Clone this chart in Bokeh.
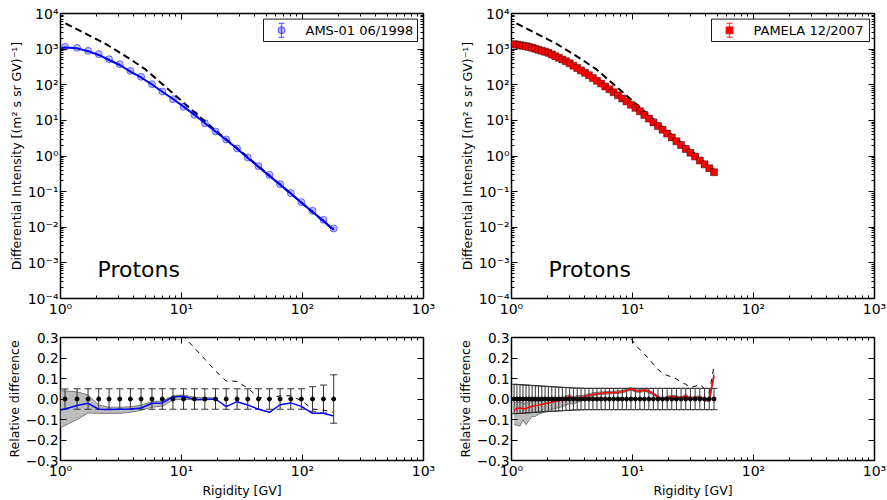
from bokeh.plotting import figure
from bokeh.models import (ColumnDataSource, Label, FixedTicker, BoxAnnotation,
                          CustomJSTickFormatter, LogAxis, LinearAxis, Range1d)
from bokeh.layouts import column, row
from bokeh.embed import file_html
from bokeh.resources import INLINE

FONT = "DejaVu Sans"
TICK_FS = "14px"
REL_TICK_FS = "13.5px"
LAB_FS = "12.5px"

# ---------------- data ----------------
# AMS-01 06/1998
ams_R = [1.09, 1.37, 1.69, 2.07, 2.52, 3.09, 3.78, 4.63, 5.70, 6.94, 8.50, 10.4, 12.8,
         15.6, 19.1, 23.4, 28.8, 35.3, 43.3, 53.3, 65.3, 80.0, 97.9, 121.0, 149.0, 181.0]
ams_flux = [1161, 1086, 895, 723, 522, 378, 246, 167, 104, 64.7, 39.4, 24.0, 14.3,
            8.36, 4.88, 2.91, 1.63, 0.910, 0.520, 0.296, 0.162, 0.0908, 0.0507, 0.0290,
            0.0162, 0.00925]
ams_err = [0.049, 0.050, 0.050, 0.050, 0.050, 0.050, 0.050, 0.050, 0.050, 0.050, 0.050,
           0.050, 0.050, 0.050, 0.050, 0.050, 0.050, 0.050, 0.050, 0.050, 0.050, 0.050,
           0.050, 0.060, 0.068, 0.118]
ams_zero = [0.0] * 26

# model for AMS-01
ams_model_R = [1.00, 1.09, 1.37, 1.69, 2.07, 2.52, 3.09, 3.78, 4.63, 5.70, 6.94, 8.50, 10.4,
               12.8, 15.6, 19.1, 23.4, 28.8, 35.3, 43.3, 53.3, 65.3, 80.0, 97.9, 121.0,
               149.0, 181.0]
ams_model_flux = [1060, 1104, 1051, 876, 687, 495, 359, 234, 160, 102, 63.5, 39.8, 24.3,
                  14.3, 8.34, 4.88, 2.80, 1.61, 0.884, 0.494, 0.277, 0.157, 0.0891, 0.0489,
                  0.0270, 0.0151, 0.00848]
ams_model_rel = [-0.054, -0.049, -0.032, -0.021, -0.050, -0.051, -0.050, -0.049, -0.044,
                 -0.021, -0.019, 0.010, 0.013, -0.002, -0.002, 0.000, -0.037, -0.013, -0.029,
                 -0.050, -0.065, -0.028, -0.019, -0.036, -0.070, -0.070, -0.083]
ams_band_R = [1.00, 1.37, 1.69, 2.07, 2.52, 3.09, 3.78, 4.63, 5.70, 6.94, 8.50, 10.4, 12.8,
              15.6, 19.1]
ams_band_hi = [0.041, 0.035, 0.020, -0.030, -0.040, -0.040, -0.038, -0.030, -0.012, -0.010,
               0.016, 0.020, 0.008, 0.008, 0.004]
ams_band_lo = [-0.140, -0.100, -0.068, -0.070, -0.070, -0.070, -0.065, -0.055, -0.040,
               -0.035, -0.005, 0.000, -0.005, -0.004, -0.002]
ams_lis_rel_R = [8.50, 10.4, 12.8, 15.6, 19.1, 23.4, 28.8, 35.3, 43.3, 53.3, 65.3, 80.0,
                 97.9, 121.0, 149.0, 181.0]
ams_lis_rel = [0.40, 0.305, 0.249, 0.194, 0.137, 0.088, 0.086, 0.053, 0.008, 0.000, 0.016,
               0.016, -0.008, -0.049, -0.054, -0.065]

# local interstellar spectrum (dashed)
lis_R = [1.1, 1.4, 1.8, 2.3, 3.0, 4.0, 5.0, 7.0, 10.0, 14.0, 20.0, 28.0, 40.0, 48.0, 60.0,
         90.0, 130.0, 180.0]
lis_flux = [5250, 3470, 2240, 1480, 851, 457, 275, 102, 35.5, 12.9, 4.57, 1.78, 0.646, 0.38,
            0.20, 0.063, 0.0219, 0.0085]

# PAMELA 12/2007
pam_R = [1.05, 1.11, 1.175, 1.244, 1.317, 1.396, 1.481, 1.573, 1.671, 1.779, 1.894, 2.018,
         2.153, 2.300, 2.459, 2.632, 2.820, 3.025, 3.248, 3.492, 3.756, 4.047, 4.362, 4.708,
         5.086, 5.499, 5.951, 6.446, 6.986, 7.580, 8.229, 8.939, 9.719, 10.57, 11.51, 12.53,
         13.65, 14.88, 16.23, 17.71, 19.33, 21.11, 23.06, 25.19, 27.53, 30.10, 32.92, 36.01,
         39.39, 43.10, 47.16]
pam_flux = [1380, 1337, 1288, 1247, 1205, 1156, 1086, 1021, 959, 902, 845, 789, 710, 635,
            570, 512, 457, 400, 344, 296, 253, 216, 184, 154, 129, 108, 89.7, 74.6, 61.5,
            50.4, 41.4, 33.9, 27.5, 22.5, 18.0, 14.2, 11.2, 8.77, 6.92, 5.42, 4.25, 3.33,
            2.59, 2.03, 1.58, 1.23, 0.962, 0.748, 0.582, 0.454, 0.351]
pam_err = [0.072, 0.071, 0.070, 0.069, 0.068, 0.067, 0.066, 0.065, 0.064, 0.063, 0.062,
           0.061, 0.060, 0.059, 0.058, 0.057, 0.056, 0.055, 0.054, 0.053, 0.053, 0.052,
           0.052, 0.052, 0.052, 0.052, 0.052, 0.052, 0.052, 0.052, 0.052, 0.052, 0.052,
           0.052, 0.052, 0.052, 0.052, 0.052, 0.052, 0.052, 0.052, 0.052, 0.052, 0.052,
           0.052, 0.052, 0.052, 0.052, 0.052, 0.052, 0.052]
pam_zero = [0.0] * 51
pam_model_rel = [-0.055, -0.046, -0.044, -0.048, -0.047, -0.040, -0.036, -0.032, -0.030,
                 -0.027, -0.022, -0.020, -0.015, -0.012, -0.008, -0.006, 0.004, 0.014,
                 -0.004, 0.008, 0.006, 0.012, 0.018, 0.022, 0.026, 0.028, 0.030, 0.031,
                 0.032, 0.033, 0.036, 0.042, 0.050, 0.040, 0.038, 0.044, 0.037, 0.026,
                 0.010, -0.002, 0.008, 0.012, 0.010, 0.004, 0.016, 0.002, 0.006, 0.010,
                 -0.004, -0.006, 0.115]
pam_band_lo = [-0.125, -0.128, -0.132, -0.100, -0.125, -0.105, -0.085, -0.085, -0.075,
               -0.068, -0.062, -0.056, -0.050, -0.046, -0.042, -0.037, -0.030, -0.022,
               -0.025, -0.016, -0.010, -0.004, 0.008, 0.014, 0.019, 0.022, 0.024, 0.025,
               0.026, 0.027, 0.030, 0.036, 0.044, 0.034, 0.032, 0.038, 0.031, 0.020, 0.004,
               -0.008, 0.002, 0.006, 0.004, -0.002, 0.010, -0.004, 0.000, 0.004, -0.010,
               -0.012, 0.105]
pam_band_hi = [-0.020, -0.015, -0.015, -0.020, -0.020, -0.015, -0.012, -0.010, -0.010,
               -0.008, -0.005, -0.004, 0.000, 0.002, 0.005, 0.006, 0.014, 0.022, 0.008,
               0.018, 0.016, 0.020, 0.026, 0.030, 0.033, 0.034, 0.036, 0.037, 0.038, 0.039,
               0.042, 0.048, 0.056, 0.046, 0.044, 0.050, 0.043, 0.032, 0.016, 0.004, 0.014,
               0.018, 0.016, 0.010, 0.022, 0.008, 0.012, 0.016, 0.002, 0.000, 0.125]
pam_lis_rel_R = [8.229, 8.939, 9.719, 10.57, 11.51, 12.53, 13.65, 14.88, 16.23, 17.71,
                 19.33, 21.11, 23.06, 25.19, 27.53, 30.10, 32.92, 36.01, 39.39, 43.10, 47.16]
pam_lis_rel = [0.38, 0.33, 0.295, 0.265, 0.24, 0.22, 0.195, 0.17, 0.145, 0.125, 0.115,
               0.108, 0.098, 0.082, 0.072, 0.057, 0.062, 0.072, 0.050, 0.030, 0.160]

# axis ticks
X_MAJOR = [1, 10, 100, 1000]
X_MINOR = [m * 10.0 ** d for d in range(0, 3) for m in range(2, 10)]
Y_MAJOR = [10.0 ** k for k in range(-4, 5)]
Y_MINOR = [m * 10.0 ** d for d in range(-4, 4) for m in range(2, 10)]
REL_TICKS = [-0.3, -0.2, -0.1, 0.0, 0.1, 0.2, 0.3]

# ---------------- styling helpers ----------------
LOG_CODE = r"""
const e = Math.round(Math.log10(tick));
const sup = {"0":"\u2070","1":"\u00b9","2":"\u00b2","3":"\u00b3","4":"\u2074","5":"\u2075",
             "6":"\u2076","7":"\u2077","8":"\u2078","9":"\u2079","-":"\u207b"};
let s = "";
for (const c of String(e)) { s += sup[c]; }
return "10" + s;
"""
LIN_CODE = r"""return (tick < -1e-9 ? "\u2212" : "") + Math.abs(tick).toFixed(1);"""
BLANK_CODE = 'return "";'

FW = 363          # frame width
FH_TOP = 285      # frame height, spectra
FH_BOT = 123      # frame height, relative differences
LB = 60
MID = 28
RB = 12


def style_axis(ax, show, fs=TICK_FS):
    ax.major_tick_in = 6
    ax.major_tick_out = 0
    ax.minor_tick_in = 3
    ax.minor_tick_out = 0
    ax.major_tick_line_color = "black"
    ax.minor_tick_line_color = "black"
    ax.axis_line_color = None
    ax.major_label_text_font = FONT
    ax.major_label_text_font_size = fs if show else "0px"
    ax.major_label_text_color = "black"
    ax.major_label_standoff = 2 if show else 0
    ax.axis_label_text_font = FONT
    ax.axis_label_text_font_size = LAB_FS
    ax.axis_label_text_font_style = "normal"
    ax.axis_label_text_color = "black"
    ax.axis_label_standoff = 1


def make_panel(kind, rb, ylabel, xlabel=None):
    xt = FixedTicker(ticks=X_MAJOR, minor_ticks=X_MINOR)
    common = dict(x_axis_type="log", x_range=Range1d(1, 1000), frame_width=FW,
                  min_border_left=LB, min_border_right=rb,
                  output_backend="svg", toolbar_location=None)
    if kind == "top":
        p = figure(y_axis_type="log", y_range=Range1d(1e-4, 1e4), frame_height=FH_TOP,
                   min_border_top=13, min_border_bottom=29, **common)
        yt = FixedTicker(ticks=Y_MAJOR, minor_ticks=Y_MINOR)
        yfmt = CustomJSTickFormatter(code=LOG_CODE)
        YAx = LogAxis
        yfs = TICK_FS
    else:
        p = figure(y_range=Range1d(-0.3, 0.3), frame_height=FH_BOT,
                   min_border_top=10, min_border_bottom=36, **common)
        yt = FixedTicker(ticks=REL_TICKS, minor_ticks=[])
        yfmt = CustomJSTickFormatter(code=LIN_CODE)
        YAx = LinearAxis
        yfs = REL_TICK_FS
    p.xaxis.ticker = xt
    p.xaxis.formatter = CustomJSTickFormatter(code=LOG_CODE)
    p.yaxis.ticker = yt
    p.yaxis.formatter = yfmt
    for ax in p.xaxis:
        style_axis(ax, True)
    for ax in p.yaxis:
        style_axis(ax, True, yfs)
    p.yaxis.axis_label = ylabel
    if xlabel:
        p.xaxis.axis_label = xlabel
    top = LogAxis(ticker=xt, formatter=CustomJSTickFormatter(code=BLANK_CODE))
    style_axis(top, False)
    p.add_layout(top, "above")
    right = YAx(ticker=yt, formatter=CustomJSTickFormatter(code=BLANK_CODE))
    style_axis(right, False)
    p.add_layout(right, "right")
    p.grid.visible = False
    p.outline_line_color = "black"
    p.outline_line_width = 1.5
    p.background_fill_color = "white"
    p.border_fill_color = "white"
    return p


YLAB_TOP = "Differential Intensity [(m\u00b2 s sr GV)\u207b\u00b9]"
YLAB_BOT = "Relative difference"
XLAB = "Rigidity [GV]"


# frame pixel offsets -> axis values (for placing the legend box inside the frame)
def fx(px):
    return 10 ** (3.0 * px / FW)


def fy(py):
    return 10 ** (4.0 - 8.0 * py / FH_TOP)


def add_legend(p, label, box_l, box_r, glyph_x, text_x, color, marker, fill, line,
               fill_alpha, line_alpha):
    top_px, bot_px, mid_px = 5.6, 28.0, 16.8
    p.add_layout(BoxAnnotation(left=fx(box_l), right=fx(box_r), top=fy(top_px),
                               bottom=fy(bot_px), fill_color="white", fill_alpha=1.0,
                               line_color="black", line_width=1, line_alpha=0.9))
    gx = fx(glyph_x)
    p.segment(x0=[gx], y0=[fy(mid_px - 7)], x1=[gx], y1=[fy(mid_px + 7)],
              line_color=color, line_alpha=line_alpha, line_width=1.2, level="overlay")
    p.scatter(x=[gx, gx], y=[fy(mid_px - 7), fy(mid_px + 7)], marker="dash", size=6,
              line_color=color, line_alpha=line_alpha, line_width=1.2, level="overlay")
    p.scatter(x=[gx], y=[fy(mid_px)], marker=marker, size=7, fill_color=fill,
              fill_alpha=fill_alpha, line_color=line, line_alpha=line_alpha, level="overlay")
    p.add_layout(Label(x=fx(text_x), y=fy(mid_px), text=label, text_font=FONT,
                       text_font_size="13px", text_color="black", text_baseline="middle",
                       text_align="left", level="overlay"))


def add_protons(p):
    p.add_layout(Label(x=37, y=29, x_units="screen", y_units="screen", text="Protons",
                       text_font=FONT, text_font_size="22px", text_color="black",
                       text_baseline="alphabetic"))


# ---------------- top left: AMS-01 ----------------
tl = make_panel("top", MID, YLAB_TOP)
tl.line(lis_R, lis_flux, line_color="black", line_width=2, line_dash="7 4")
tl.line(ams_model_R, ams_model_flux, line_color="#0000ff", line_width=2)
ams_src = ColumnDataSource(dict(
    x=ams_R, y=ams_flux,
    lo=[f * (1 - e) for f, e in zip(ams_flux, ams_err)],
    hi=[f * (1 + e) for f, e in zip(ams_flux, ams_err)]))
tl.segment(x0="x", y0="lo", x1="x", y1="hi", source=ams_src, line_color="blue", line_alpha=0.5)
tl.scatter("x", "y", source=ams_src, marker="circle", size=7, fill_color="blue",
           fill_alpha=0.25, line_color="blue", line_alpha=0.5)
add_legend(tl, "AMS-01 06/1998", 203, 357, 221, 245, "blue", "circle", "blue", "blue",
           0.3, 0.6)
add_protons(tl)

# ---------------- top right: PAMELA ----------------
tr = make_panel("top", RB, YLAB_TOP)
lis_R_r = [r for r in lis_R if r <= 48.0]
lis_flux_r = [f for r, f in zip(lis_R, lis_flux) if r <= 48.0]
tr.line(lis_R_r, lis_flux_r, line_color="black", line_width=2, line_dash="7 4")
pam_src = ColumnDataSource(dict(
    x=pam_R, y=pam_flux,
    lo=[f * (1 - e) for f, e in zip(pam_flux, pam_err)],
    hi=[f * (1 + e) for f, e in zip(pam_flux, pam_err)]))
tr.segment(x0="x", y0="lo", x1="x", y1="hi", source=pam_src, line_color="red", line_alpha=0.6)
tr.scatter("x", "y", source=pam_src, marker="square", size=7, fill_color="red",
           line_color="black", line_alpha=0.6, line_width=0.7)
add_legend(tr, "PAMELA 12/2007", 200, 358, 218, 242, "red", "square", "red", "red",
           1.0, 0.7)
add_protons(tr)

# ---------------- bottom left ----------------
bl = make_panel("bot", MID, YLAB_BOT, XLAB)
bl.varea(x=ams_band_R, y1=ams_band_lo, y2=ams_band_hi, fill_color="#bdbdbd")
bl.line(ams_band_R, ams_band_lo, line_color="#7a7a7a", line_width=1)
bl.line(ams_band_R, ams_band_hi, line_color="#7a7a7a", line_width=1)
bl.line(ams_lis_rel_R, ams_lis_rel, line_color="black", line_width=1, line_dash="5 5")
ams_rel_src = ColumnDataSource(dict(x=ams_R, y=ams_zero, lo=[-e for e in ams_err], hi=ams_err))
bl.segment(x0="x", y0="lo", x1="x", y1="hi", source=ams_rel_src, line_color="#333333",
           line_width=1)
bl.scatter("x", "lo", source=ams_rel_src, marker="dash", size=7, line_color="#333333")
bl.scatter("x", "hi", source=ams_rel_src, marker="dash", size=7, line_color="#333333")
bl.line(ams_model_R, ams_model_rel, line_color="#0000ff", line_width=1.5)
bl.scatter("x", "y", source=ams_rel_src, marker="circle", size=4, color="black")

# ---------------- bottom right ----------------
br = make_panel("bot", RB, YLAB_BOT, XLAB)
br.varea(x=pam_R, y1=pam_band_lo, y2=pam_band_hi, fill_color="#bdbdbd")
br.line(pam_R, pam_band_lo, line_color="#7a7a7a", line_width=1)
br.line(pam_R, pam_band_hi, line_color="#7a7a7a", line_width=1)
br.line(pam_lis_rel_R, pam_lis_rel, line_color="black", line_width=1, line_dash="5 5")
pam_rel_src = ColumnDataSource(dict(x=pam_R, y=pam_zero, lo=[-e for e in pam_err], hi=pam_err))
br.segment(x0="x", y0="lo", x1="x", y1="hi", source=pam_rel_src, line_color="#333333",
           line_width=1)
br.scatter("x", "lo", source=pam_rel_src, marker="dash", size=7, line_color="#333333")
br.scatter("x", "hi", source=pam_rel_src, marker="dash", size=7, line_color="#333333")
br.line(pam_R, pam_model_rel, line_color="#ff0000", line_width=1.5)
br.scatter("x", "y", source=pam_rel_src, marker="circle", size=4, color="black")

layout = column(row(tl, tr), row(bl, br))
with open("out.html", "w", encoding="utf-8") as fh:
    fh.write(file_html(layout, INLINE, title="Protons"))
